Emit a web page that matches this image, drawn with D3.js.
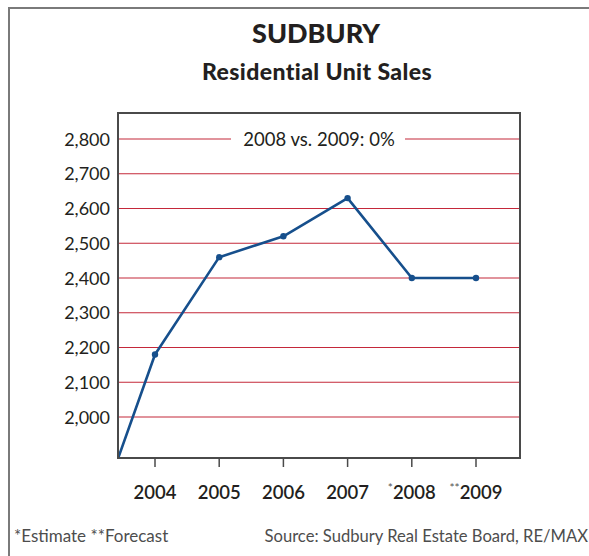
<!DOCTYPE html>
<html>
<head>
  <meta charset="utf-8">
  <script src="https://cdn.jsdelivr.net/npm/d3@7"></script>
  <style>
    body { margin: 0; background: #fff; }
    text { font-family: Lato, "Open Sans", sans-serif; }
  </style>
</head>
<body>
<svg id="chart" width="589" height="556"></svg>
<script>
  // data
  const years = [2003, 2004, 2005, 2006, 2007, 2008, 2009]
  const sales = [1660, 2180, 2460, 2520, 2630, 2400, 2400]
  const yTicks = [2000, 2100, 2200, 2300, 2400, 2500, 2600, 2700, 2800]
  const xTicks = [2004, 2005, 2006, 2007, 2008, 2009]
  const xPrefix = ["", "", "", "", "*", "**"]

  const svg = d3.select("#chart")
  const pL = 118, pR = 520, pT = 113, pB = 458

  let x = d3.scaleLinear().domain([2004, 2009]).range([155, 476])
  let y = d3.scaleLinear().domain([2000, 2800]).range([417, 139])

  // outer frame
  svg.append("path")
     .attr("d", `M9,556 V8 H589`)
     .attr("fill", "none").attr("stroke", "#7a7a7a").attr("stroke-width", 2)

  svg.append("text").attr("x", 316).attr("y", 43)
     .attr("text-anchor", "middle").attr("font-size", 27).attr("font-weight", 900)
     .attr("fill", "#231f20").text("SUDBURY")
  svg.append("text").attr("x", 317).attr("y", 80)
     .attr("text-anchor", "middle").attr("font-size", 23).attr("font-weight", 900)
     .attr("letter-spacing", 0.4)
     .attr("fill", "#231f20").text("Residential Unit Sales")

  // grid
  svg.append("g").selectAll("line").data(yTicks).join("line")
     .attr("x1", pL).attr("x2", pR)
     .attr("y1", d => y(d)).attr("y2", d => y(d))
     .attr("stroke", "#c4283a").attr("stroke-width", 1.2)

  svg.append("g").selectAll("text").data(yTicks).join("text")
     .attr("x", 110).attr("y", d => y(d) + 6.5)
     .attr("text-anchor", "end").attr("font-size", 18).attr("fill", "#231f20")
     .text(d => d3.format(",")(d))

  // annotation over the top grid line
  svg.append("rect").attr("x", 231).attr("y", 126).attr("width", 174).attr("height", 26).attr("fill", "#fff")
  svg.append("text").attr("x", 319).attr("y", 146)
     .attr("text-anchor", "middle").attr("font-size", 18.5).attr("fill", "#231f20")
     .text("2008 vs. 2009: 0%")

  // line
  svg.append("clipPath").attr("id", "clip")
     .append("rect").attr("x", pL).attr("y", pT).attr("width", pR - pL).attr("height", pB - pT)

  const pts = years.map((d, i) => [d, sales[i]])
  let line = d3.line().x(d => x(d[0])).y(d => y(d[1]))
  svg.append("path").datum(pts)
     .attr("clip-path", "url(#clip)")
     .attr("d", line).attr("fill", "none")
     .attr("stroke", "#164f8c").attr("stroke-width", 2.6).attr("stroke-linejoin", "round")
  svg.append("g").selectAll("circle").data(pts.slice(1)).join("circle")
     .attr("cx", d => x(d[0])).attr("cy", d => y(d[1])).attr("r", 3.2)
     .attr("fill", "#164f8c")

  // plot frame
  svg.append("rect").attr("x", pL).attr("y", pT)
     .attr("width", pR - pL).attr("height", pB - pT)
     .attr("fill", "none").attr("stroke", "#4a4a4a").attr("stroke-width", 2)

  // x ticks
  svg.append("g").selectAll("line").data(xTicks).join("line")
     .attr("x1", d => x(d)).attr("x2", d => x(d))
     .attr("y1", pB).attr("y2", pB + 9)
     .attr("stroke", "#4a4a4a").attr("stroke-width", 1.5)

  let xl = svg.append("g").selectAll("text").data(xTicks).join("text")
     .attr("x", d => x(d)).attr("y", 499)
     .attr("text-anchor", "middle").attr("font-size", 18.5).attr("font-weight", 600)
     .attr("fill", "#231f20")
  xl.append("tspan").attr("font-size", 12).attr("dy", -7).attr("fill", "#555").attr("font-weight", 400)
     .text((d, i) => xPrefix[i])
  xl.append("tspan").attr("dy", (d, i) => xPrefix[i] ? 7 : 0).text(d => d)

  svg.append("text").attr("x", 14).attr("y", 542)
     .attr("font-size", 17).attr("fill", "#4d4d4d").text("*Estimate **Forecast")
  svg.append("text").attr("x", 588).attr("y", 542).attr("text-anchor", "end")
     .attr("font-size", 16.6).attr("fill", "#4d4d4d").text("Source: Sudbury Real Estate Board, RE/MAX")
</script>
</body>
</html>
